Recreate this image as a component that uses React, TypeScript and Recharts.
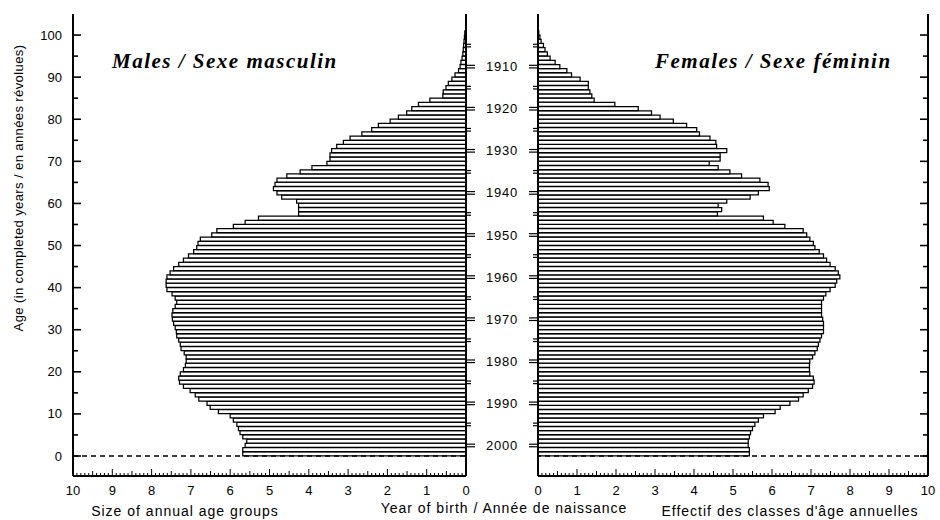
import React from "react";
import { BarChart, Bar, XAxis, YAxis, ReferenceLine } from "recharts";

// size of each annual age group, age 0 (first) to age 100 (last)
const MALES = [
  5.68, 5.68, 5.62, 5.58, 5.68, 5.75, 5.79, 5.83, 5.92, 6.0,
  6.3, 6.51, 6.59, 6.8, 6.89, 7.02, 7.19, 7.29, 7.31, 7.27,
  7.19, 7.14, 7.12, 7.12, 7.17, 7.25, 7.27, 7.31, 7.36, 7.37,
  7.4, 7.44, 7.47, 7.48, 7.46, 7.4, 7.36, 7.4, 7.48, 7.61,
  7.63, 7.63, 7.61, 7.53, 7.44, 7.31, 7.19, 7.06, 6.93, 6.85,
  6.82, 6.76, 6.47, 6.34, 5.92, 5.62, 5.28, 4.26, 4.26, 4.26,
  4.31, 4.69, 4.81, 4.9, 4.86, 4.81, 4.56, 4.22, 3.92, 3.54,
  3.46, 3.46, 3.42, 3.29, 3.12, 2.95, 2.65, 2.4, 2.23, 1.93,
  1.72, 1.51, 1.38, 1.21, 0.92, 0.59, 0.58, 0.51, 0.45, 0.36,
  0.28, 0.19, 0.15, 0.13, 0.1, 0.08, 0.07, 0.06, 0.05, 0.04,
  0.03,
];

const FEMALES = [
  5.42, 5.42, 5.39, 5.39, 5.42, 5.45, 5.5, 5.56, 5.65, 5.78,
  6.08, 6.21, 6.46, 6.68, 6.8, 6.93, 7.04, 7.08, 7.06, 6.97,
  6.96, 6.96, 6.97, 7.04, 7.1, 7.16, 7.19, 7.23, 7.27, 7.32,
  7.32, 7.32, 7.3, 7.27, 7.27, 7.27, 7.27, 7.32, 7.38, 7.49,
  7.62, 7.66, 7.74, 7.7, 7.62, 7.49, 7.4, 7.32, 7.21, 7.1,
  7.06, 6.97, 6.89, 6.8, 6.33, 6.03, 5.78, 4.6, 4.71, 4.62,
  4.84, 5.44, 5.65, 5.93, 5.9, 5.69, 5.22, 4.92, 4.62, 4.39,
  4.67, 4.67, 4.84, 4.58, 4.56, 4.41, 4.14, 4.07, 3.81, 3.47,
  3.13, 2.91, 2.57, 1.97, 1.44, 1.38, 1.33, 1.29, 1.29, 1.08,
  0.86, 0.74, 0.56, 0.44, 0.31, 0.24, 0.18, 0.14, 0.08, 0.05,
  0.02,
];

const AGE_TICKS = [0, 5, 10, 15, 20, 25, 30, 35, 40, 45, 50, 55, 60, 65, 70, 75, 80, 85, 90, 95, 100];
const BIRTH_YEARS = [1905, 1910, 1915, 1920, 1925, 1930, 1935, 1940, 1945, 1950, 1955, 1960, 1965, 1970, 1975, 1980, 1985, 1990, 1995, 2000];
const REF_YEAR = 2003;

const AGE_DOMAIN = [-4.75, 105];
const VALUE_DOMAIN = [0, 10];

const rows = MALES.map((m, age) => ({ age, mid: age + 0.5, males: m, females: FEMALES[age] }));
const valueTicks = Array.from({ length: 101 }, (_, i) => i / 10);
const yearTicks = BIRTH_YEARS.map((y) => REF_YEAR - y - 0.5);

const SANS = "'Liberation Sans', Arial, sans-serif";
const SERIF = "'Liberation Serif', 'Times New Roman', serif";
const frame = { stroke: "#000", strokeWidth: 2 };

const ValueTick = (props: any) => {
  const { x, y, payload, side } = props;
  const r = Math.round(payload.value * 10);
  const len = r % 10 === 0 ? 7 : r % 5 === 0 ? 5 : 3;
  const dir = side === "top" ? 1 : -1;
  return (
    <g>
      <line x1={x} y1={y} x2={x} y2={y + dir * len} stroke="#000" strokeWidth={1} />
      {side === "bottom" && r % 10 === 0 && (
        <text x={x} y={y + 19} textAnchor="middle" fontFamily={SANS} fontSize={13} fill="#000">
          {r / 10}
        </text>
      )}
    </g>
  );
};

const AgeTick = (props: any) => {
  const { x, y, payload, side, labels } = props;
  const major = payload.value % 10 === 0;
  const len = major ? 8 : 5;
  const dir = side === "left" ? 1 : -1;
  return (
    <g>
      <line x1={x} y1={y} x2={x + dir * len} y2={y} stroke="#000" strokeWidth={1.6} />
      {labels && major && (
        <text x={x - 11} y={y + 4.5} textAnchor="end" fontFamily={SANS} fontSize={13} fill="#000">
          {payload.value}
        </text>
      )}
    </g>
  );
};

const YearTick = (props: any) => {
  const { x, y, payload, side, labels } = props;
  const year = Math.round(REF_YEAR - 0.5 - payload.value);
  const len = year % 10 === 0 ? 9 : 5;
  const dir = side === "right" ? 1 : -1;
  return (
    <g>
      <line x1={x} y1={y - 1.3} x2={x + dir * len} y2={y - 1.3} stroke="#000" strokeWidth={1.2} />
      <line x1={x} y1={y + 1.3} x2={x + dir * len} y2={y + 1.3} stroke="#000" strokeWidth={1.2} />
      {labels && year % 10 === 0 && (
        <text x={x + 36} y={y + 4.5} textAnchor="middle" fontFamily={SANS} fontSize={13} letterSpacing={0.8} fill="#000">
          {year}
        </text>
      )}
    </g>
  );
};

const MalesPanel = () => (
  <BarChart
    width={560}
    height={520}
    layout="vertical"
    data={rows}
    margin={{ top: 14, right: 0, bottom: 0, left: 0 }}
    barCategoryGap={0}
    barGap={0}
  >
    <XAxis
      xAxisId="bottom"
      type="number"
      domain={VALUE_DOMAIN}
      reversed
      ticks={valueTicks}
      interval={0}
      tickSize={0}
      tickMargin={0}
      tickLine={false}
      axisLine={frame}
      height={44}
      tick={<ValueTick side="bottom" />}
    />
    <XAxis
      xAxisId="top"
      orientation="top"
      type="number"
      domain={VALUE_DOMAIN}
      reversed
      ticks={valueTicks}
      interval={0}
      tickSize={0}
      tickMargin={0}
      tickLine={false}
      axisLine={frame}
      height={0}
      tick={<ValueTick side="top" />}
    />
    <YAxis
      yAxisId="age"
      type="number"
      dataKey="mid"
      domain={AGE_DOMAIN}
      reversed
      allowDataOverflow
      ticks={AGE_TICKS}
      interval={0}
      tickSize={0}
      tickMargin={0}
      tickLine={false}
      axisLine={frame}
      width={73}
      tick={<AgeTick side="left" labels />}
    />
    <YAxis
      yAxisId="years"
      orientation="right"
      type="number"
      dataKey="mid"
      domain={AGE_DOMAIN}
      reversed
      allowDataOverflow
      ticks={yearTicks}
      interval={0}
      tickSize={0}
      tickMargin={0}
      tickLine={false}
      axisLine={frame}
      width={94}
      tick={<YearTick side="right" labels />}
    />
    <ReferenceLine xAxisId="bottom" yAxisId="age" y={0} stroke="#000" strokeWidth={1.3} strokeDasharray="5 4" />
    <Bar
      dataKey="males"
      xAxisId="bottom"
      yAxisId="age"
      fill="#fff"
      stroke="#000"
      strokeWidth={1.25}
      isAnimationActive={false}
    />
  </BarChart>
);

const FemalesPanel = () => (
  <BarChart
    width={438}
    height={520}
    layout="vertical"
    data={rows}
    margin={{ top: 14, right: 0, bottom: 0, left: 0 }}
    barCategoryGap={0}
    barGap={0}
  >
    <XAxis
      xAxisId="bottom"
      type="number"
      domain={VALUE_DOMAIN}
      ticks={valueTicks}
      interval={0}
      tickSize={0}
      tickMargin={0}
      tickLine={false}
      axisLine={frame}
      height={44}
      tick={<ValueTick side="bottom" />}
    />
    <XAxis
      xAxisId="top"
      orientation="top"
      type="number"
      domain={VALUE_DOMAIN}
      ticks={valueTicks}
      interval={0}
      tickSize={0}
      tickMargin={0}
      tickLine={false}
      axisLine={frame}
      height={0}
      tick={<ValueTick side="top" />}
    />
    <YAxis
      yAxisId="years"
      orientation="left"
      type="number"
      dataKey="mid"
      domain={AGE_DOMAIN}
      reversed
      allowDataOverflow
      ticks={yearTicks}
      interval={0}
      tickSize={0}
      tickMargin={0}
      tickLine={false}
      axisLine={frame}
      width={36}
      tick={<YearTick side="left" />}
    />
    <YAxis
      yAxisId="age"
      orientation="right"
      type="number"
      dataKey="mid"
      domain={AGE_DOMAIN}
      reversed
      allowDataOverflow
      ticks={AGE_TICKS}
      interval={0}
      tickSize={0}
      tickMargin={0}
      tickLine={false}
      axisLine={frame}
      width={12}
      tick={<AgeTick side="right" />}
    />
    <ReferenceLine xAxisId="bottom" yAxisId="age" y={0} stroke="#000" strokeWidth={1.3} strokeDasharray="5 4" />
    <Bar
      dataKey="females"
      xAxisId="bottom"
      yAxisId="age"
      fill="#fff"
      stroke="#000"
      strokeWidth={1.25}
      isAnimationActive={false}
    />
  </BarChart>
);

const titleStyle: React.CSSProperties = {
  position: "absolute",
  top: 49,
  fontFamily: SERIF,
  fontWeight: "bold",
  fontStyle: "italic",
  fontSize: 21,
  letterSpacing: 1.5,
  whiteSpace: "nowrap",
};

const captionStyle: React.CSSProperties = {
  position: "absolute",
  fontFamily: SANS,
  fontSize: 14,
  letterSpacing: 1,
  whiteSpace: "nowrap",
  transform: "translateX(-50%)",
};

export default function App() {
  return (
    <div style={{ position: "absolute", left: 0, top: 0, width: 940, height: 520, background: "#fff", overflow: "hidden" }}>
      <div style={{ position: "absolute", left: 502, top: 0 }}>
        <FemalesPanel />
      </div>
      <div style={{ position: "absolute", left: 0, top: 0, width: 560, height: 520 }}>
        <MalesPanel />
      </div>
      <div style={{ ...titleStyle, left: 112 }}>Males / Sexe masculin</div>
      <div style={{ ...titleStyle, left: 655 }}>Females / Sexe féminin</div>
      <div
        style={{
          position: "absolute",
          left: 18,
          top: 188,
          fontFamily: SANS,
          fontSize: 13,
          letterSpacing: 0.4,
          whiteSpace: "nowrap",
          transform: "translate(-50%, -50%) rotate(-90deg)",
        }}
      >
        Age (in completed years / en années révolues)
      </div>
      <div style={{ ...captionStyle, left: 185, top: 503 }}>Size of annual age groups</div>
      <div style={{ ...captionStyle, left: 504, top: 500 }}>Year of birth / Année de naissance</div>
      <div style={{ ...captionStyle, left: 790, top: 503 }}>Effectif des classes d'âge annuelles</div>
    </div>
  );
}
